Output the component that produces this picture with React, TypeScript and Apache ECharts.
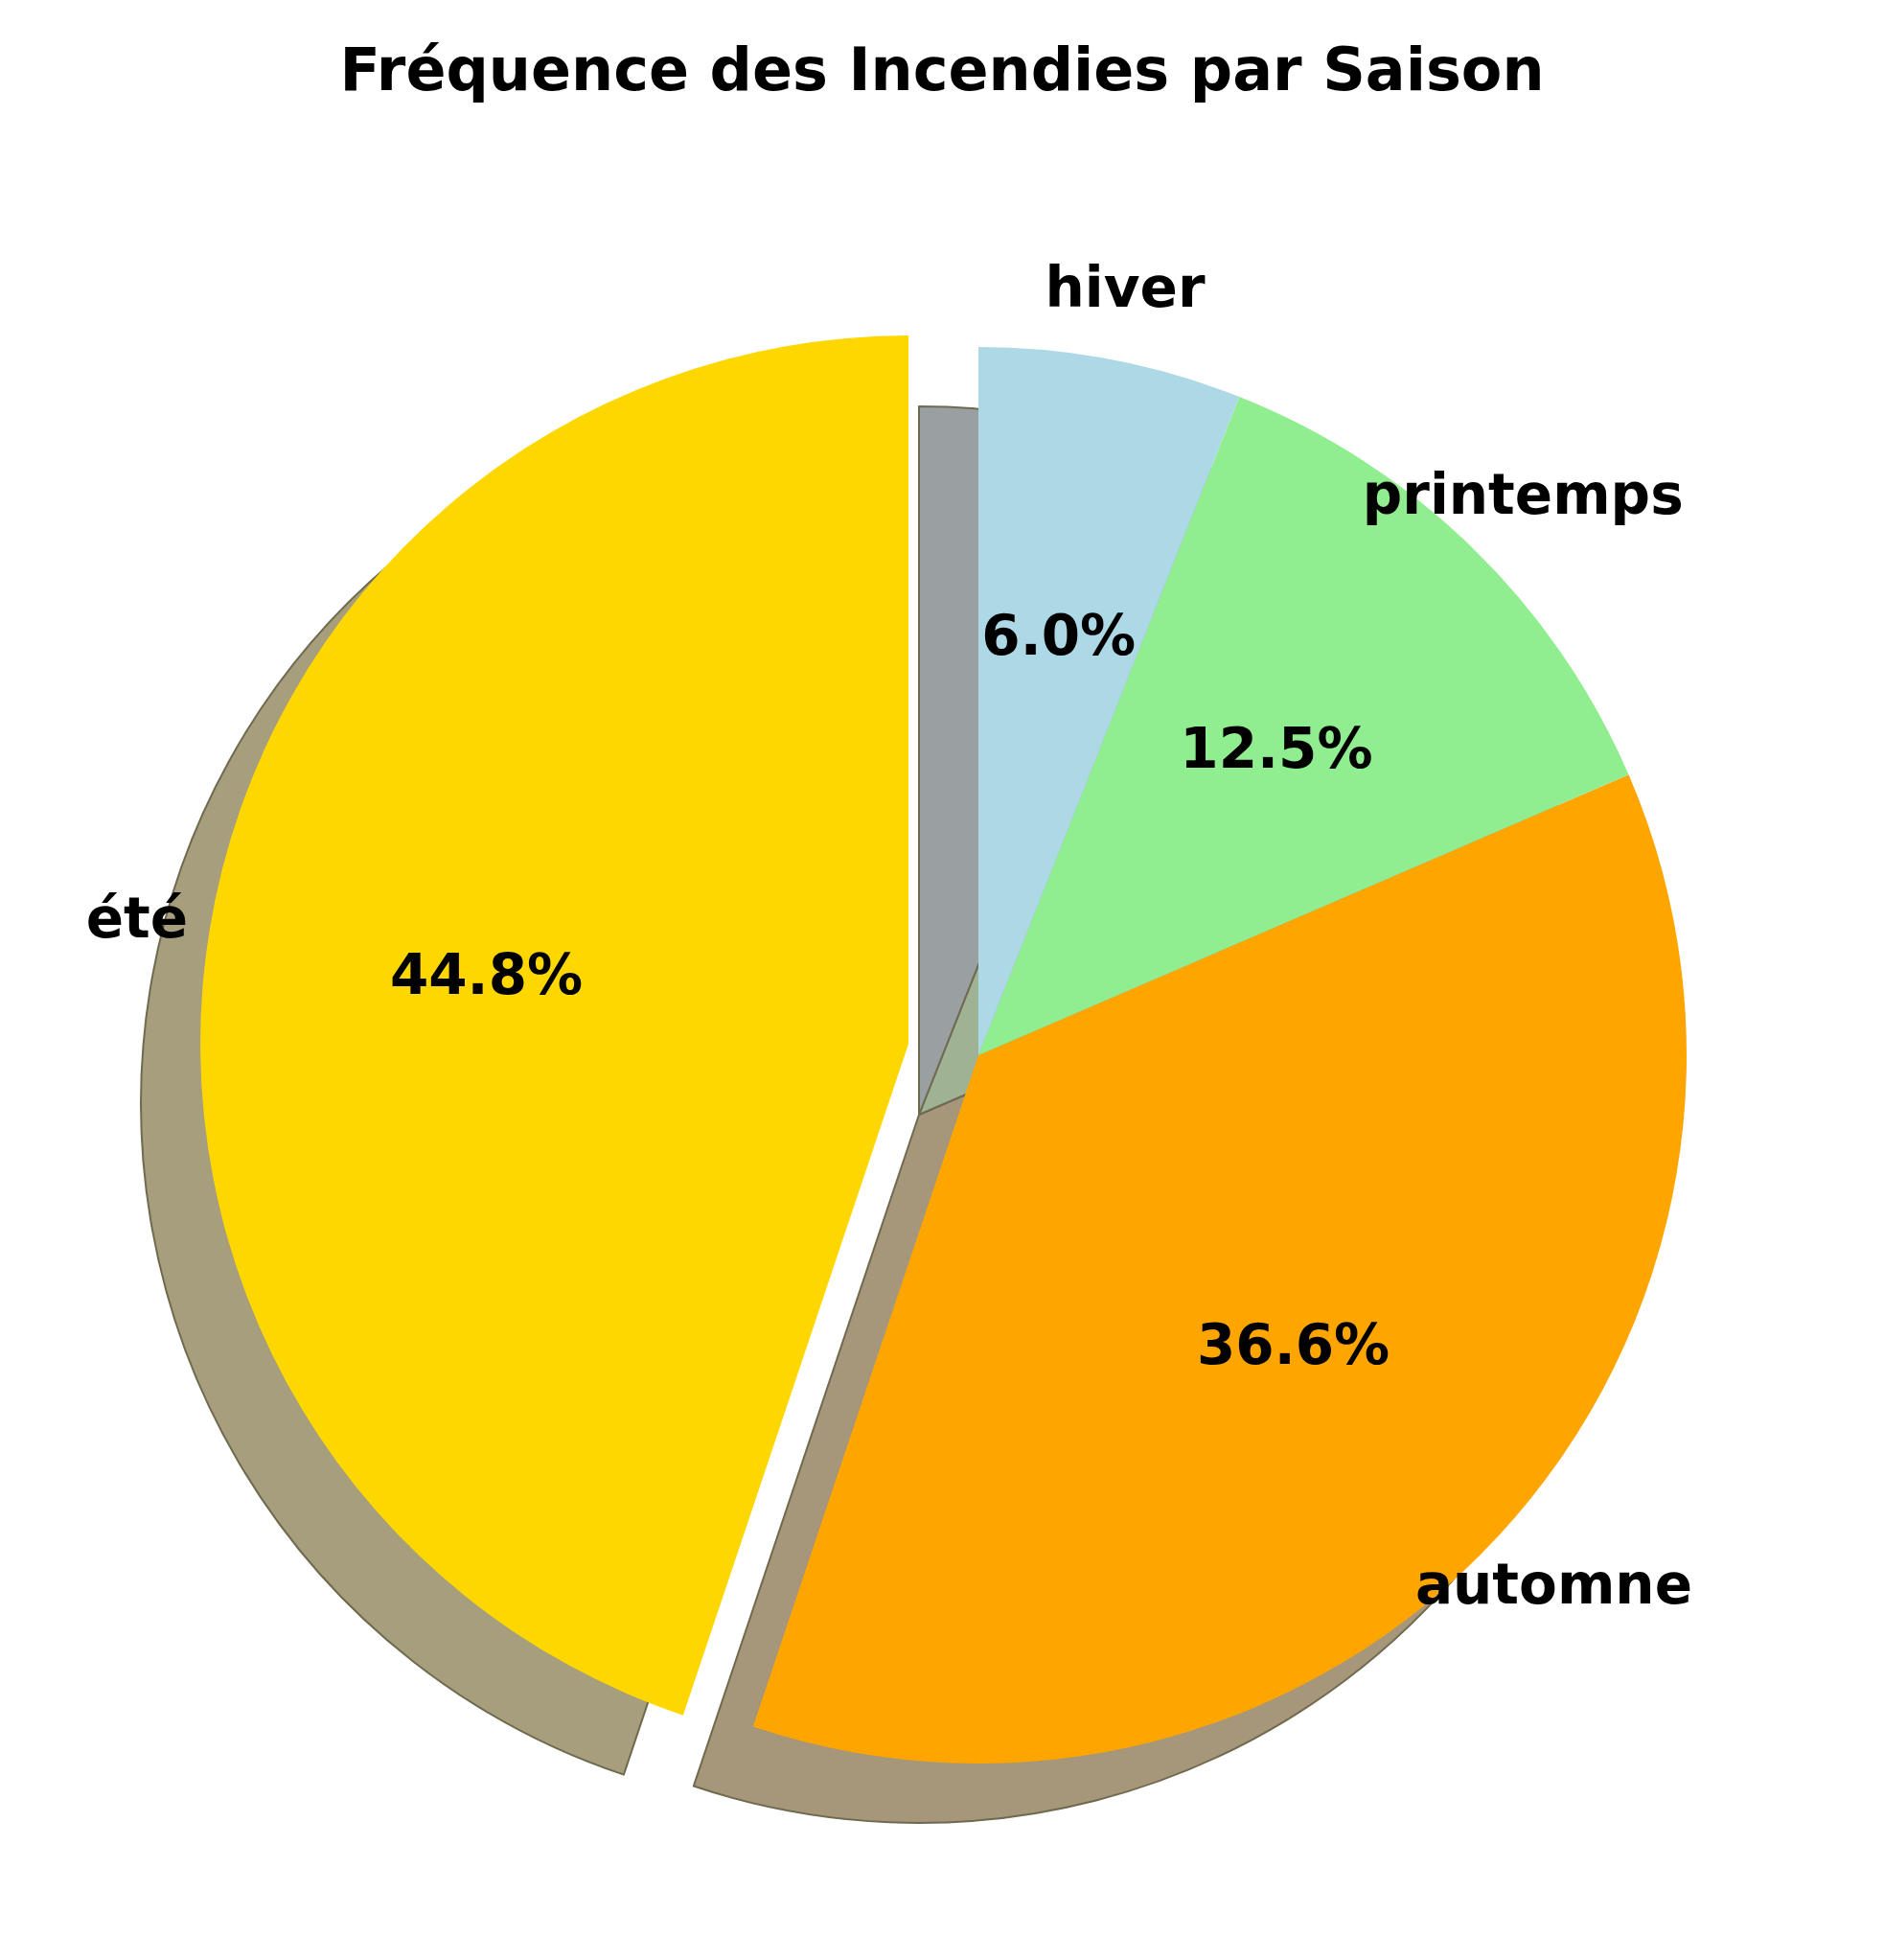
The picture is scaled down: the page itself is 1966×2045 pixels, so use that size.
import React, { useEffect, useRef } from 'react';
import * as echarts from 'echarts';

const seasons = ['été', 'automne', 'printemps', 'hiver'];
const shares = [44.8, 36.6, 12.5, 6.0];
const colors = ['#ffd700', '#ffa500', '#90ee90', '#add8e6'];
const shadowColors = ['#a69e7c', '#a6967a', '#9fb394', '#9a9fa2'];
const nameAlign = ['right', 'left', 'left', 'left'];

const CX = 1013;
const CY = 1093;
const R = 739;
const FONT = 'DejaVu Sans';

export default function App() {
  const chartRef = useRef<HTMLDivElement>(null);

  useEffect(() => {
    if (!chartRef.current) return;
    const chart = echarts.init(chartRef.current, null, { renderer: 'svg' });

    const base = {
      type: 'pie',
      clockwise: false,
      startAngle: 90,
      selectedMode: 'single',
      selectedOffset: R * 0.1,
      labelLine: { show: false },
      emphasis: { disabled: true },
    };

    chart.setOption({
      animation: false,
      title: {
        text: 'Fréquence des Incendies par Saison',
        left: 'center',
        top: 28,
        textStyle: { fontFamily: FONT, fontWeight: 'bold', fontSize: 62, color: '#000' },
      },
      series: [
        {
          ...base,
          z: 1,
          silent: true,
          center: [CX - 62, CY + 62],
          radius: [0, R],
          label: { show: false },
          data: seasons.map((s, i) => ({
            name: s,
            value: shares[i],
            selected: i === 0,
            itemStyle: { color: shadowColors[i], borderColor: '#6f6a4f', borderWidth: 2 },
          })),
        },
        {
          ...base,
          z: 2,
          center: [CX, CY],
          radius: [0, R],
          label: { show: false },
          data: seasons.map((s, i) => ({
            name: s,
            value: shares[i],
            selected: i === 0,
            itemStyle: { color: colors[i] },
          })),
        },
        {
          ...base,
          z: 3,
          silent: true,
          center: [CX, CY],
          radius: [0, R * 1.2],
          itemStyle: { color: 'rgba(0,0,0,0)' },
          label: {
            show: true,
            position: 'inside',
            formatter: (p: any) => p.value.toFixed(1) + '%',
            fontFamily: FONT,
            fontWeight: 'bold',
            fontSize: 58,
            color: '#000',
          },
          data: seasons.map((s, i) => ({ name: s, value: shares[i], selected: i === 0 })),
        },
        {
          ...base,
          z: 3,
          silent: true,
          center: [CX, CY],
          radius: [0, R * 2.2],
          itemStyle: { color: 'rgba(0,0,0,0)' },
          label: {
            show: true,
            position: 'inside',
            formatter: '{b}',
            fontFamily: FONT,
            fontWeight: 'bold',
            fontSize: 58,
            color: '#000',
          },
          data: seasons.map((s, i) => ({
            name: s,
            value: shares[i],
            selected: i === 0,
            label: { align: nameAlign[i] },
          })),
        },
      ],
    });

    return () => chart.dispose();
  }, []);

  return <div ref={chartRef} style={{ width: 1950, height: 2030 }} />;
}
